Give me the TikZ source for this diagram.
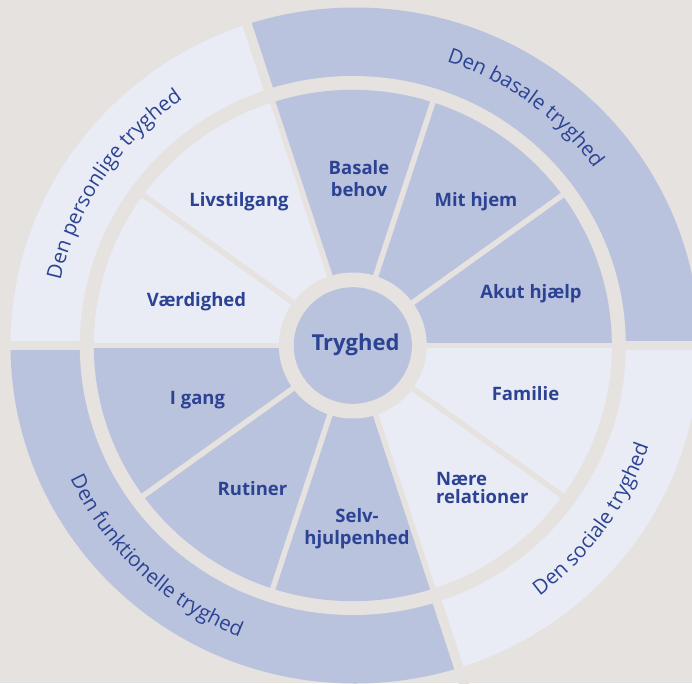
\documentclass[tikz,border=0pt]{standalone}
\usepackage{fontspec}
\setmainfont{Open Sans}
\usetikzlibrary{decorations.text}
\definecolor{bgc}{RGB}{229,226,224}
\definecolor{segdark}{RGB}{186,195,221}
\definecolor{seglight}{RGB}{233,236,245}
\definecolor{txtc}{RGB}{44,67,147}
\newcommand{\wedgesec}[4]{\fill[#1] (0,0) -- (#2:#4) arc[start angle=#2,end angle=#3,radius=#4] -- cycle;}
\tikzset{
  lbl/.style={text=txtc, font=\bfseries\fontsize{18.5}{22}\selectfont, align=center, inner sep=0pt},
  ringtext/.style={decorate, decoration={text along path, text align=center, text color=txtc}},
  outergap/.style={bgc, line width=9.5pt},
  innergap/.style={bgc, line width=5.5pt}
}
\begin{document}
\begin{tikzpicture}[x=1pt,y=1pt]
\fill[bgc] (0,0) rectangle (692,-683);
\useasboundingbox (0,0) rectangle (692,-683);
\clip (0,0) rectangle (692,-683);
% outer ring segments, clipped by the outer ellipse
\begin{scope}
  \clip (355,-345.5) ellipse [x radius=344.5, y radius=338];
  \begin{scope}[shift={(352.8,-345.5)}, xscale=1.013]
    \wedgesec{segdark}{0}{108}{420}
    \wedgesec{seglight}{108}{180}{420}
    \wedgesec{segdark}{180}{288}{420}
    \wedgesec{seglight}{288}{360}{420}
  \end{scope}
\end{scope}
\begin{scope}[shift={(352.8,-345.5)}, xscale=1.013]
  \fill[bgc] (0,0) circle[radius=269.5];
  \foreach \a in {0,108,180,288} \draw[outergap] (\a:262) -- (\a:420);
  % inner wheel
  \wedgesec{segdark}{0}{108}{255.7}
  \wedgesec{seglight}{108}{180}{255.7}
  \wedgesec{segdark}{180}{288}{255.7}
  \wedgesec{seglight}{288}{360}{255.7}
  \foreach \a in {0,36,...,324} \draw[innergap] (0,0) -- (\a:258);
  \fill[bgc] (0,0) circle[radius=73];
  \fill[segdark] (0,0) circle[radius=58.3];
\end{scope}
% ring texts
\begin{scope}[shift={(352.8,-345.5)}]
  \path[ringtext, decoration={text={|\fontsize{20.5}{24}\selectfont|Den basale tryghed}}] (108:299.5) arc[start angle=108,end angle=0,radius=299.5];
  \path[ringtext, decoration={text={|\fontsize{20.5}{24}\selectfont|Den personlige tryghed}}] (182:299.5) arc[start angle=182,end angle=110,radius=299.5];
  \path[ringtext, decoration={text={|\fontsize{20.5}{24}\selectfont|Den funktionelle tryghed}}] (173:312.5) arc[start angle=173,end angle=281,radius=312.5];
  \path[ringtext, decoration={text={|\fontsize{20.5}{24}\selectfont|Den sociale tryghed}}] (-72:312.5) arc[start angle=-72,end angle=0,radius=312.5];
\end{scope}
% labels
\node[lbl, anchor=base, font=\bfseries\fontsize{22}{26}\selectfont] (tryghed) at (355.5,-350.7) {Tryghed};
\node[lbl] (basale) at (359,-179) {Basale\\behov};
\node[lbl, anchor=base] (mithjem) at (476,-206.7) {Mit hjem};
\node[lbl, anchor=base] (akut) at (531,-298.3) {Akut hjælp};
\node[lbl, anchor=base] (livs) at (239,-206.7) {Livstilgang};
\node[lbl, anchor=base] (vaerd) at (196.5,-306.5) {Værdighed};
\node[lbl, anchor=base] (igang) at (197.5,-404) {I gang};
\node[lbl, anchor=base] (rutiner) at (252.5,-495) {Rutiner};
\node[lbl] (selv) at (357,-529) {Selv-\\hjulpenhed};
\node[lbl, anchor=base] (familie) at (525.5,-400) {Familie};
\node[lbl, align=left, anchor=west, font=\bfseries\fontsize{18.5}{18}\selectfont] (naere) at (436,-488) {Nære\\relationer};
\end{tikzpicture}
\end{document}
